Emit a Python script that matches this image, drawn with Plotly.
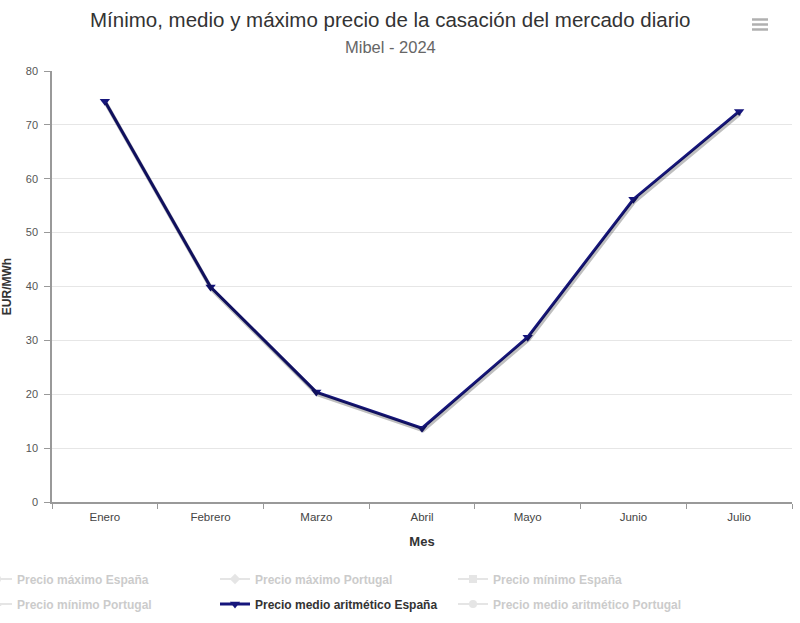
import plotly.graph_objects as go

meses = ["Enero", "Febrero", "Marzo", "Abril", "Mayo", "Junio", "Julio"]
medio_espana = [74.4, 39.9, 20.4, 13.7, 30.6, 56.2, 72.5]

row1 = [
    ("Precio máximo España", "circle"),
    ("Precio máximo Portugal", "diamond"),
    ("Precio mínimo España", "square"),
]
row2_first = ("Precio mínimo Portugal", "triangle-up")
row2_last = ("Precio medio aritmético Portugal", "circle")
main_name = "Precio medio aritmético España"

title_text = "Mínimo, medio y máximo precio de la casación del mercado diario"
subtitle_text = "Mibel - 2024"

FONT = "Liberation Sans, Arial, sans-serif"
NAVY = "#16167c"

L, R, T, B = 52, 8, 71, 121
PW, PH = 800 - L - R, 623 - T - B

def px_x(p):
    return (p - L) / PW

def px_y(p):
    return (623 - B - p) / PH

fig = go.Figure()

def add_hidden(name, sym, legend):
    fig.add_trace(go.Scatter(
        x=meses, y=[None] * len(meses),
        name="<b><span style='color:#999999'>" + name + "</span></b>",
        mode="lines+markers", visible="legendonly", legend=legend,
        line=dict(color="#cccccc", width=2),
        marker=dict(symbol=sym, size=8, color="#cccccc"),
    ))

for n, s in row1:
    add_hidden(n, s, "legend")
add_hidden(*row2_first, "legend2")

# shadow (same data on a slightly shifted overlay axis)
fig.add_trace(go.Scatter(
    x=meses, y=medio_espana, mode="lines", xaxis="x2", yaxis="y2",
    line=dict(color="rgba(0,0,0,0.25)", width=4), showlegend=False, hoverinfo="skip",
))

fig.add_trace(go.Scatter(
    x=meses, y=medio_espana, name="<b>" + main_name + "</b>", mode="lines+markers",
    legend="legend2",
    line=dict(color=NAVY, width=3),
    marker=dict(symbol="triangle-down", size=9, color=NAVY),
))
add_hidden(*row2_last, "legend2")

leg_common = dict(
    orientation="h", xanchor="left", yanchor="middle",
    entrywidth=193, entrywidthmode="pixels", itemwidth=30,
    font=dict(size=12, color="#333333", family=FONT),
    bgcolor="rgba(0,0,0,0)",
)

fig.update_layout(
    width=800, height=623,
    margin=dict(l=L, r=R, t=T, b=B, autoexpand=False),
    paper_bgcolor="white", plot_bgcolor="white",
    font=dict(family=FONT, color="#333333"),
    xaxis=dict(
        type="category", range=[-0.5, 6.5], tickson="boundaries", automargin=False,
        ticks="outside", ticklen=5, tickcolor="#999999", ticklabelstandoff=3,
        showline=True, linecolor="#999999", linewidth=1.5,
        showgrid=False, tickfont=dict(size=11.5, color="#444444"),
        title=dict(text="<b>Mes</b>", font=dict(size=13, color="#333333"), standoff=15),
    ),
    yaxis=dict(
        range=[0, 80], dtick=10, ticks="outside", ticklen=6, tickcolor="#999999",
        automargin=False, ticklabelstandoff=4,
        showline=True, linecolor="#999999", linewidth=1.5,
        gridcolor="#e6e6e6", zeroline=False,
        tickfont=dict(size=11, color="#555555"),
        title=dict(text="<b>EUR/MWh</b>", font=dict(size=12, color="#333333"), standoff=12),
    ),
    xaxis2=dict(type="category", range=[-0.51, 6.49], overlaying="x", visible=False),
    yaxis2=dict(range=[0.4, 80.4], overlaying="y", visible=False),
    legend=dict(x=px_x(-23), y=px_y(579), **leg_common),
    legend2=dict(x=px_x(-23), y=px_y(604), **leg_common),
    showlegend=True,
    annotations=[
        dict(text=title_text, xref="paper", yref="paper", x=px_x(390), y=px_y(20),
             xanchor="center", yanchor="middle", showarrow=False,
             font=dict(size=20.5, color="#333333", family=FONT)),
        dict(text=subtitle_text, xref="paper", yref="paper", x=px_x(390), y=px_y(47),
             xanchor="center", yanchor="middle", showarrow=False,
             font=dict(size=16.5, color="#666666", family=FONT)),
    ],
    shapes=[
        dict(type="line", xref="paper", yref="paper",
             x0=px_x(752), x1=px_x(768), y0=px_y(yy), y1=px_y(yy),
             line=dict(color="#b0b0b0", width=2.5))
        for yy in (19.5, 24.5, 29.5)
    ],
)

fig.write_html(
    "out.html",
    config={"displayModeBar": False},
    post_script="document.body.style.margin='0';document.body.style.padding='0';",
)
